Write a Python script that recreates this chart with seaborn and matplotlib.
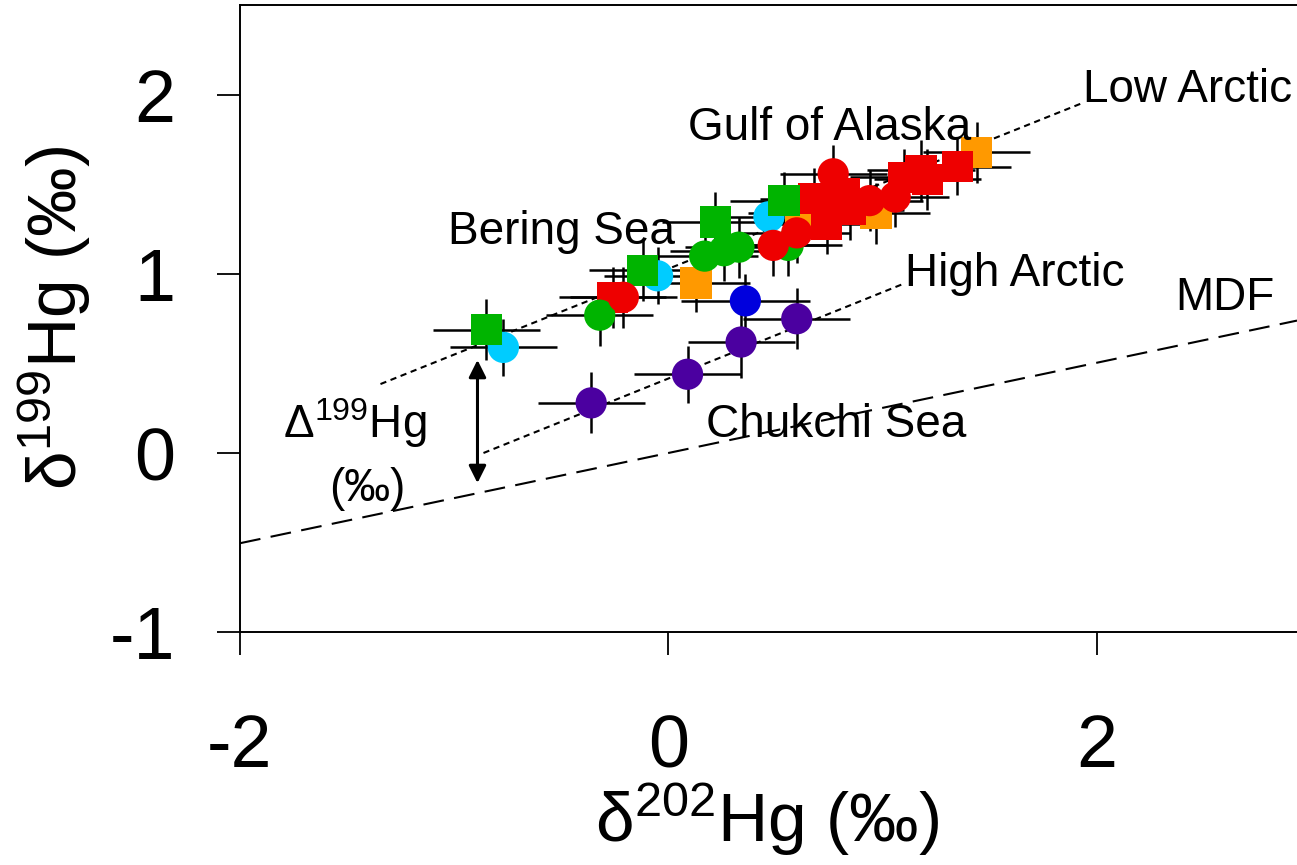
import numpy as np
import pandas as pd
import matplotlib
matplotlib.use("Agg")
import matplotlib.pyplot as plt
import seaborn as sns

# ---------------- data ----------------
purple_x = [-0.36, 0.09, 0.34, 0.60]
purple_y = [0.28, 0.44, 0.62, 0.75]
purple_yerr = [0.17, 0.16, 0.20, 0.17]

blue_x = [0.36]
blue_y = [0.85]
blue_yerr = [0.15]

cyan_x = [-0.77, -0.05, 0.47]
cyan_y = [0.59, 0.99, 1.32]
cyan_yerr = [0.16, 0.16, 0.17]

orange_sq_x = [0.13, 0.62, 0.97, 1.44]
orange_sq_y = [0.95, 1.34, 1.34, 1.68]
orange_sq_yerr = [0.16, 0.17, 0.17, 0.17]

red_sq_x = [-0.26, 0.68, 0.74, 0.82, 0.85, 1.10, 1.18, 1.21, 1.35]
red_sq_y = [0.87, 1.42, 1.28, 1.45, 1.36, 1.54, 1.58, 1.53, 1.60]
red_sq_yerr = [0.17, 0.17, 0.17, 0.16, 0.17, 0.16, 0.17, 0.17, 0.16]

green_sq_x = [-0.85, -0.12, 0.22, 0.54]
green_sq_y = [0.69, 1.02, 1.29, 1.41]
green_sq_yerr = [0.17, 0.17, 0.17, 0.16]

green_ci_x = [-0.32, 0.17, 0.26, 0.33, 0.56]
green_ci_y = [0.77, 1.10, 1.13, 1.15, 1.16]
green_ci_yerr = [0.17, 0.17, 0.17, 0.17, 0.17]

red_ci_x = [-0.21, 0.49, 0.60, 0.77, 0.94, 1.06]
red_ci_y = [0.87, 1.16, 1.23, 1.56, 1.41, 1.43]
red_ci_yerr = [0.17, 0.17, 0.17, 0.16, 0.17, 0.17]

x_err_default = 0.25

# reference lines: (slope, intercept, x_start, x_end)
low_arctic_line = [0.479, 1.029, -1.344, 1.937]
high_arctic_line = [0.482, 0.416, -0.863, 1.106]
mdf_line = [0.252, 0.0, -2.0, 2.936]

# delta-199 arrow (x, y_top, y_bottom)
arrow_spec = [-0.891, 0.52, -0.168]

x_ticks = [-2, 0, 2]
y_ticks = [-1, 0, 1, 2]

palette = {
    "purple": "#4B00A0",
    "blue": "#0000DD",
    "cyan": "#00CCFF",
    "orange": "#FF9900",
    "red": "#EE0000",
    "green": "#00B400",
}

groups = [
    ("purple", "circle", purple_x, purple_y, purple_yerr),
    ("blue", "circle", blue_x, blue_y, blue_yerr),
    ("cyan", "circle", cyan_x, cyan_y, cyan_yerr),
    ("orange", "square", orange_sq_x, orange_sq_y, orange_sq_yerr),
    ("red", "square", red_sq_x, red_sq_y, red_sq_yerr),
    ("green", "square", green_sq_x, green_sq_y, green_sq_yerr),
    ("green", "circle", green_ci_x, green_ci_y, green_ci_yerr),
    ("red", "circle", red_ci_x, red_ci_y, red_ci_yerr),
]

rows = []
for col, shape, xs, ys, yes in groups:
    for xv, yv, ye in zip(xs, ys, yes):
        xe = 0.30 if col == "blue" else x_err_default
        rows.append(dict(x=xv, y=yv, xerr=xe, yerr=ye, color=col, shape=shape))
df = pd.DataFrame(rows)

# ---------------- style ----------------
sns.set_style("ticks")
plt.rcParams["font.family"] = ["Liberation Sans", "DejaVu Sans"]
plt.rcParams["mathtext.default"] = "regular"
plt.rcParams["axes.unicode_minus"] = False
for k in ["text.color", "axes.labelcolor", "xtick.color", "ytick.color",
          "xtick.labelcolor", "ytick.labelcolor", "axes.edgecolor"]:
    plt.rcParams[k] = "black"

W, H = 1297, 865
fig = plt.figure(figsize=(W / 100, H / 100), dpi=100)
ax = fig.add_axes([240 / W, (H - 632) / H, (W - 240) / W, (632 - 5) / H])

# error bars (behind markers)
ax.errorbar(df["x"], df["y"], xerr=df["xerr"], yerr=df["yerr"], fmt="none",
            ecolor="black", elinewidth=1.8, capsize=0, zorder=1)

# reference lines
def draw_line(spec, **kw):
    s, b, x0, x1 = spec
    xs = np.array([x0, x1])
    ax.plot(xs, s * xs + b, color="black", zorder=0.5, **kw)

draw_line(low_arctic_line, lw=1.5, dashes=(3, 2.2))
draw_line(high_arctic_line, lw=1.5, dashes=(3, 2.2))
draw_line(mdf_line, lw=1.5, dashes=(10, 5))

# markers
sns.scatterplot(data=df, x="x", y="y", hue="color", style="shape",
                palette=palette, markers={"circle": "o", "square": "s"},
                s=22.5 ** 2, linewidth=0, edgecolor="none", legend=False,
                ax=ax, zorder=3)

# arrow
ax.annotate("", xy=(arrow_spec[0], arrow_spec[1]), xytext=(arrow_spec[0], arrow_spec[2]),
            arrowprops=dict(arrowstyle="<|-|>", lw=2.2, color="black",
                            mutation_scale=26, shrinkA=0, shrinkB=0), zorder=4)

# annotations
tfs = 33
ax.text(1.937, 1.96, "Low Arctic", fontsize=tfs, ha="left", va="baseline")
ax.text(0.093, 1.75, "Gulf of Alaska", fontsize=tfs, ha="left", va="baseline")
ax.text(-1.027, 1.168, "Bering Sea", fontsize=tfs, ha="left", va="baseline")
ax.text(1.106, 0.933, "High Arctic", fontsize=tfs, ha="left", va="baseline")
ax.text(2.366, 0.80, "MDF", fontsize=tfs, ha="left", va="baseline")
ax.text(0.177, 0.089, "Chukchi Sea", fontsize=tfs, ha="left", va="baseline")
ax.text(-1.797, 0.084, "Δ$^{199}$Hg", fontsize=tfs, ha="left", va="baseline")
ax.text(-1.405, -0.27, "(‰)", fontsize=tfs, ha="center", va="baseline")

# axes
ax.set_xlim(-2, 2.936)
ax.set_ylim(-1, 2.503)
ax.set_xticks(x_ticks)
ax.set_yticks(y_ticks)
ax.set_xticklabels([str(t) for t in x_ticks])
ax.set_yticklabels([str(t) for t in y_ticks])
ax.tick_params(axis="both", direction="out", length=16.5, width=1.3,
               labelsize=53, color="black", labelcolor="black")
ax.tick_params(axis="x", pad=42)
ax.tick_params(axis="y", pad=30)
for side in ["left", "bottom", "top"]:
    ax.spines[side].set_linewidth(1.4)
    ax.spines[side].set_color("black")
ax.spines["right"].set_visible(False)

ax.set_xlabel("δ$^{202}$Hg (‰)", fontsize=50, color="black")
ax.set_ylabel("δ$^{199}$Hg (‰)", fontsize=50, color="black")
ax.xaxis.set_label_coords(0.4986, -0.238)
ax.yaxis.set_label_coords(-0.139, 0.5)

fig.savefig("out.png", dpi=100)
